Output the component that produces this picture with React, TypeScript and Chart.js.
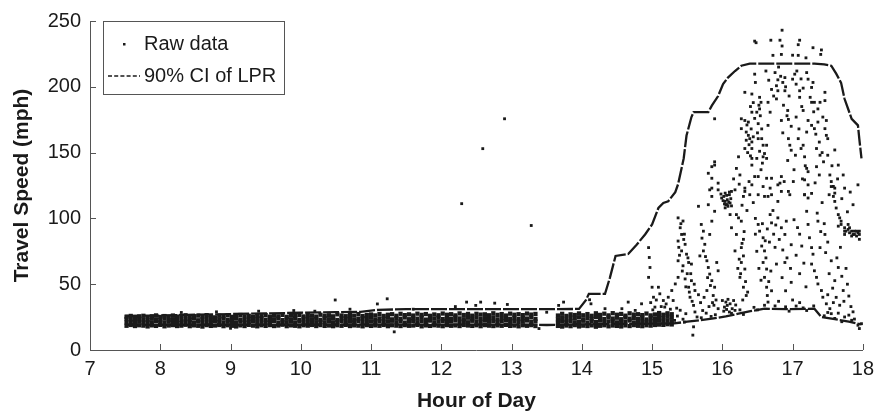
import React, { useEffect, useRef } from "react";
import { Chart, registerables } from "chart.js";

Chart.register(...registerables);

const xTicks = [7, 8, 9, 10, 11, 12, 13, 14, 15, 16, 17, 18];
const yTicks = [0, 50, 100, 150, 200, 250];
const legendLabels = ["Raw data", "90% CI of LPR"];
const xTitle = "Hour of Day";
const yTitle = "Travel Speed (mph)";

// Upper bound of the 90% CI of LPR
const upperHours = [7.5, 8.0, 8.5, 9.0, 9.5, 10.0, 10.5, 10.85, 11.1, 11.5, 12.0, 12.5, 13.0, 13.5, 13.96, 14.06, 14.1, 14.33, 14.4, 14.48, 14.66, 14.78, 14.9, 15.0, 15.09, 15.16, 15.23, 15.33, 15.37, 15.45, 15.49, 15.56, 15.59, 15.8, 15.85, 15.94, 16.01, 16.08, 16.18, 16.27, 16.39, 17.31, 17.45, 17.55, 17.62, 17.69, 17.74, 17.84, 17.93, 17.95, 17.98];
const upperSpeeds = [25.9, 26.2, 26.8, 27.3, 27.8, 28.3, 28.8, 29.0, 30.5, 31.0, 31.0, 31.0, 31.0, 31.0, 31.2, 38.0, 42.7, 42.7, 55.0, 71.5, 73.0, 80.0, 87.8, 95.4, 107.9, 111.7, 113.0, 120.0, 126.0, 145.6, 163.0, 177.0, 180.7, 180.7, 185.7, 193.0, 202.0, 207.0, 212.0, 216.0, 217.6, 217.6, 217.0, 216.0, 210.0, 203.0, 190.7, 175.7, 170.7, 160.0, 145.6];

// Lower bound of the 90% CI of LPR
const lowerHours = [7.5, 9.0, 10.5, 12.0, 13.0, 13.5, 14.0, 14.5, 15.0, 15.28, 15.5, 15.85, 16.05, 16.23, 16.4, 16.6, 16.9, 17.31, 17.41, 17.6, 17.8, 17.93, 17.98];
const lowerSpeeds = [19.0, 19.0, 19.2, 19.3, 19.3, 19.0, 19.5, 19.8, 20.0, 20.0, 21.5, 23.8, 25.5, 27.6, 29.5, 31.4, 31.0, 31.4, 25.1, 23.5, 21.5, 20.0, 19.5];

// Dense off-peak raw observations: [hour, speed, speed, speed, speed]
const bandRows: number[][] = [
  [7.52, 18.4, 20.9, 23.6, 25.3], [7.58, 19.0, 21.4, 23.1, 25.9], [7.64, 18.2, 20.6, 22.8, 24.7], [7.70, 18.8, 21.7, 23.9, 25.5],
  [7.76, 18.5, 20.8, 23.2, 26.0], [7.82, 17.9, 21.2, 22.6, 24.9], [7.88, 18.7, 20.5, 23.7, 25.6], [7.94, 18.3, 21.9, 23.3, 26.3],
  [8.00, 19.1, 21.0, 22.9, 25.1], [8.06, 18.0, 20.7, 23.8, 25.8], [8.12, 18.6, 21.5, 22.7, 24.6], [8.18, 18.9, 20.9, 23.4, 26.2],
  [8.24, 18.2, 21.3, 24.0, 25.4], [8.30, 18.5, 20.4, 22.8, 25.9], [8.36, 19.2, 21.8, 23.5, 26.4], [8.42, 18.1, 21.1, 23.0, 25.0],
  [8.48, 18.7, 20.6, 23.9, 25.7], [8.54, 18.4, 21.6, 22.6, 26.1], [8.60, 17.8, 20.8, 23.3, 25.3], [8.66, 18.9, 21.4, 24.1, 26.5],
  [8.72, 18.3, 20.7, 22.9, 25.6], [8.78, 18.6, 21.9, 23.6, 24.8], [8.84, 19.0, 21.2, 23.2, 26.0], [8.90, 18.1, 20.5, 23.8, 25.5],
  [8.96, 18.8, 21.6, 22.7, 26.3], [9.02, 18.4, 21.0, 23.4, 25.2], [9.08, 17.9, 20.9, 24.0, 25.9], [9.14, 18.7, 21.7, 23.1, 26.6],
  [9.20, 18.2, 20.6, 22.8, 25.4], [9.26, 19.1, 21.3, 23.7, 26.0], [9.32, 18.5, 21.8, 23.0, 25.1], [9.38, 18.0, 20.7, 23.5, 26.2],
  [9.44, 18.8, 21.5, 24.2, 25.7], [9.50, 18.3, 20.8, 22.9, 26.5], [9.56, 18.9, 21.1, 23.6, 25.3], [9.62, 18.2, 21.9, 23.2, 26.1],
  [9.68, 18.6, 20.6, 24.0, 25.6], [9.74, 19.2, 21.4, 22.7, 26.7], [9.80, 18.1, 21.0, 23.8, 25.2], [9.86, 18.7, 21.7, 23.3, 26.3],
  [9.92, 18.4, 20.9, 24.1, 25.8], [9.98, 18.0, 21.6, 22.8, 26.6], [10.04, 18.8, 20.7, 23.5, 25.5], [10.10, 18.5, 21.3, 24.2, 26.9],
  [10.16, 19.0, 21.8, 23.1, 26.0], [10.22, 18.2, 20.8, 23.7, 25.4], [10.28, 18.9, 21.5, 22.9, 26.8], [10.34, 18.3, 21.1, 24.3, 25.9],
  [10.40, 18.6, 22.0, 23.4, 26.4], [10.46, 18.1, 20.9, 23.9, 25.6], [10.52, 18.8, 21.4, 22.8, 27.1], [10.58, 18.4, 21.9, 24.1, 26.2],
  [10.64, 19.1, 20.7, 23.3, 25.7], [10.70, 18.2, 21.6, 24.4, 26.9], [10.76, 18.7, 21.0, 23.0, 26.1], [10.82, 18.5, 22.1, 23.8, 27.3],
  [10.88, 18.0, 21.2, 24.2, 25.8], [10.94, 18.9, 20.8, 23.5, 26.6], [11.00, 18.3, 21.7, 24.6, 27.0], [11.06, 18.7, 21.3, 23.2, 26.3],
  [11.12, 18.4, 22.0, 24.0, 27.4], [11.18, 19.0, 20.9, 23.6, 25.9], [11.24, 18.1, 21.5, 24.5, 26.8], [11.30, 18.8, 22.2, 23.3, 27.2],
  [11.36, 18.5, 21.1, 24.1, 26.0], [11.42, 18.2, 21.8, 23.7, 27.5], [11.48, 18.9, 20.8, 24.7, 26.5], [11.54, 18.4, 21.6, 23.4, 27.1],
  [11.60, 18.6, 22.1, 24.2, 26.2], [11.66, 19.1, 21.0, 23.8, 27.6], [11.72, 18.0, 21.9, 24.8, 26.7], [11.78, 18.7, 21.4, 23.1, 27.3],
  [11.84, 18.3, 22.3, 24.4, 26.0], [11.90, 18.8, 20.9, 23.9, 27.0], [11.96, 18.5, 21.7, 24.6, 26.4], [12.02, 18.1, 22.0, 23.5, 27.7],
  [12.08, 18.9, 21.2, 24.3, 26.8], [12.14, 18.4, 21.8, 23.7, 27.2], [12.20, 18.7, 22.4, 24.9, 26.3], [12.26, 18.2, 21.3, 24.0, 27.8],
  [12.32, 19.0, 21.9, 23.4, 26.6], [12.38, 18.6, 21.1, 24.5, 27.4], [12.44, 18.3, 22.2, 23.8, 26.1], [12.50, 18.8, 21.6, 24.7, 27.5],
  [12.56, 18.1, 21.0, 23.6, 26.9], [12.62, 18.9, 22.3, 24.2, 27.1], [12.68, 18.5, 21.5, 23.9, 26.4], [12.74, 18.2, 22.0, 24.8, 27.9],
  [12.80, 18.7, 21.2, 23.3, 26.7], [12.86, 18.4, 21.8, 24.4, 27.3], [12.92, 19.1, 22.5, 24.0, 26.2], [12.98, 18.3, 21.4, 23.7, 27.6],
  [13.04, 18.6, 22.1, 24.6, 26.8], [13.10, 18.0, 21.1, 23.5, 27.2], [13.16, 18.8, 21.9, 24.3, 26.5], [13.22, 18.4, 22.4, 23.9, 27.7],
  [13.28, 18.9, 21.3, 24.8, 26.9], [13.34, 18.2, 21.7, 23.6, 27.4],
  [13.66, 18.3, 20.8, 23.4, 26.2], [13.72, 17.8, 21.6, 24.3, 27.5], [13.78, 18.6, 21.1, 23.0, 25.9], [13.84, 18.1, 22.0, 24.6, 27.1],
  [13.90, 18.9, 20.7, 23.8, 26.6], [13.96, 17.9, 21.4, 24.9, 27.8], [14.02, 18.5, 22.2, 23.3, 26.4], [14.08, 18.2, 20.9, 24.4, 27.3],
  [14.14, 18.7, 21.8, 23.7, 26.0], [14.20, 17.7, 21.2, 25.0, 27.9], [14.26, 18.4, 22.3, 24.1, 26.7], [14.32, 18.8, 20.8, 23.5, 27.6],
  [14.38, 18.0, 21.6, 24.8, 26.3], [14.44, 18.6, 22.1, 23.9, 28.0], [14.50, 18.3, 21.0, 24.5, 26.8], [14.56, 17.9, 21.9, 23.4, 27.4],
  [14.62, 18.7, 21.3, 24.7, 26.1], [14.68, 18.2, 22.4, 23.8, 27.9], [14.74, 18.9, 20.9, 24.3, 26.9], [14.80, 18.4, 21.7, 23.6, 27.2],
  [14.86, 18.1, 22.0, 24.9, 26.5], [14.92, 18.8, 21.1, 23.2, 27.7], [14.98, 18.5, 21.9, 24.6, 26.3], [15.04, 19.0, 21.4, 23.9, 27.0],
  [15.10, 19.3, 22.3, 25.1, 28.1], [15.16, 19.1, 21.6, 24.2, 26.8], [15.22, 19.6, 22.5, 25.3, 27.9], [15.28, 19.4, 21.8, 24.6, 27.2],
];

// Sparse raw observations: [hour, speed]
const rawPoints: number[][] = [
  // off-peak stragglers
  [8.3, 28.5], [8.8, 29.0], [9.0, 16.5], [9.4, 29.5], [9.9, 30.0], [10.2, 29.5], [10.49, 38.0], [10.7, 31.0], [11.09, 35.0],
  [11.23, 38.9], [11.33, 13.8], [11.6, 31.0], [12.2, 33.0], [12.36, 36.4], [12.49, 33.9], [12.56, 36.4], [12.76, 35.6], [12.94, 34.6],
  [13.39, 16.3], [13.5, 28.7], [13.67, 33.9], [13.74, 36.4], [14.11, 38.2], [14.13, 35.1], [14.33, 31.4], [14.57, 31.4],
  [14.66, 36.4], [14.76, 30.1], [14.85, 35.1], [14.98, 36.0], [15.06, 38.0], [15.13, 33.0], [15.2, 35.0], [15.26, 31.0], [15.01, 30.5],
  // midday outliers
  [12.29, 111.2], [12.59, 153.0], [12.9, 175.7], [13.28, 94.6],
  // peak, above the upper line
  [16.85, 243.0], [16.46, 234.7], [16.48, 233.5], [16.69, 235.4], [16.82, 235.4], [17.1, 235.4], [16.85, 231.0], [17.08, 232.0],
  [17.29, 229.7], [17.41, 228.0], [17.4, 224.6], [16.72, 223.9], [16.84, 224.6], [17.0, 224.0], [17.08, 223.9], [17.19, 222.0],
  // peak, 190-215
  [16.46, 209.6], [16.47, 203.3], [16.75, 210.8], [16.79, 205.3], [16.86, 203.3], [16.89, 207.0], [17.0, 205.8], [17.05, 202.0],
  [17.03, 209.6], [17.22, 205.8], [17.29, 203.3], [17.2, 210.8], [16.77, 200.8], [16.79, 197.0], [16.89, 197.0], [17.1, 197.0],
  [17.27, 199.5], [16.32, 195.8], [16.42, 194.5], [16.53, 192.0], [16.55, 188.2], [16.53, 183.2], [16.44, 188.0], [16.77, 190.8],
  [16.65, 188.2], [17.1, 192.0], [17.31, 188.2], [17.39, 188.2], [17.46, 189.5], [17.46, 195.8], [17.27, 188.2],
  [16.8, 215.0], [16.83, 208.0], [16.9, 200.0], [16.95, 193.0], [17.06, 212.0], [17.12, 206.0], [17.15, 199.0], [17.25, 192.0],
  [16.62, 212.0], [16.66, 205.0], [16.7, 198.0], [16.73, 193.0],
  // peak, 140-185
  [16.42, 180.7], [16.49, 180.7], [16.68, 180.7], [16.93, 182.0], [17.15, 182.0], [17.36, 183.2], [15.89, 175.7], [16.27, 175.7],
  [16.32, 174.4], [16.37, 173.2], [16.51, 172.0], [16.65, 170.7], [16.84, 174.4], [16.94, 175.2], [17.05, 177.0], [17.22, 174.4],
  [17.43, 177.0], [17.48, 174.4], [17.27, 170.7], [17.31, 168.2], [17.36, 173.2], [16.27, 168.2], [16.34, 165.6], [16.37, 163.1],
  [16.39, 160.6], [16.42, 158.1], [16.34, 159.4], [16.32, 153.1], [16.42, 153.1], [16.51, 160.6], [16.56, 160.6], [16.58, 155.6],
  [16.6, 149.3], [16.58, 146.8], [16.63, 145.6], [16.63, 155.6], [16.94, 160.6], [16.96, 155.6], [16.98, 151.8], [17.08, 160.6],
  [17.12, 153.1], [17.15, 155.6], [17.2, 165.6], [17.34, 153.1], [17.48, 163.1], [17.5, 160.6], [17.46, 168.2], [16.23, 146.8],
  [16.42, 145.6], [16.49, 145.6], [17.17, 146.8], [17.39, 148.0], [17.5, 148.0], [15.89, 140.5], [15.85, 139.3], [15.89, 143.0],
  [16.42, 140.5], [17.34, 139.3], [17.65, 140.5], [17.2, 138.0], [17.22, 135.5],
  [16.36, 150.0], [16.4, 147.5], [16.38, 156.0], [16.44, 162.0], [16.41, 168.0], [16.35, 171.0], [16.46, 176.0], [16.4, 185.0],
  [16.52, 186.0], [16.54, 178.0], [16.5, 165.0], [16.56, 168.0], [16.53, 151.0], [16.57, 142.0], [16.55, 137.0],
  [16.87, 186.0], [16.92, 178.0], [16.98, 170.0], [16.86, 165.0], [16.93, 144.0], [17.02, 137.0], [16.88, 128.0],
  [17.3, 181.0], [17.33, 164.0], [17.38, 158.0], [17.42, 150.0], [17.44, 143.0], [17.38, 133.0], [17.32, 127.0],
  [17.01, 128.0], [17.04, 148.0], [17.09, 168.0], [17.13, 185.0], [17.18, 140.0], [17.14, 130.0],
  [17.56, 140.0], [17.6, 152.0], [17.64, 130.0],
  // peak, 115-135
  [15.8, 134.3], [15.85, 130.5], [15.94, 126.8], [16.25, 133.0], [16.46, 131.8], [16.51, 131.8], [16.63, 130.5], [16.7, 130.5],
  [16.84, 131.8], [16.82, 126.8], [16.79, 125.5], [17.17, 129.3], [17.22, 125.5], [17.53, 133.0], [17.55, 128.0], [17.58, 124.3],
  [17.6, 123.0], [17.72, 133.0], [17.93, 125.5], [17.74, 123.0], [15.82, 121.7], [15.94, 121.7], [16.04, 119.2], [16.13, 120.5],
  [16.32, 120.5], [16.39, 118.0], [16.6, 116.7], [16.7, 118.0], [16.94, 120.5], [17.17, 118.0], [17.6, 119.2], [17.27, 119.0],
  [16.16, 130.0], [16.2, 138.0], [16.24, 126.0], [16.38, 128.0], [17.52, 118.0], [17.82, 120.0],
  // peak, 100-125
  [15.85, 123.0], [15.85, 116.7], [15.99, 115.5], [16.04, 112.9], [16.02, 116.7], [16.07, 114.2], [16.11, 111.7], [16.1, 118.0],
  [16.08, 109.2], [16.05, 110.4], [16.18, 121.7], [16.32, 123.0], [16.3, 116.7], [16.42, 125.5], [16.51, 118.0], [16.58, 124.2],
  [16.65, 116.7], [16.68, 123.0], [16.79, 112.9], [16.84, 120.5], [16.96, 118.0], [17.17, 118.0], [17.22, 115.5], [17.55, 124.2],
  [17.58, 116.7], [17.6, 112.9], [17.62, 107.9], [17.65, 102.9], [17.86, 110.4], [15.66, 109.2], [15.8, 110.4], [16.11, 102.9],
  [16.2, 102.9], [16.23, 100.4], [17.42, 112.0], [17.35, 104.0],
  [16.01, 113.5], [16.03, 111.0], [16.06, 117.5], [16.09, 112.5], [16.12, 115.0], [16.04, 108.0], [16.1, 120.0], [16.07, 110.5],
  [15.98, 118.5], [16.13, 109.5], [16.28, 110.0], [16.35, 106.0], [16.44, 112.0], [16.47, 100.0], [16.72, 106.0],
  [17.7, 115.0], [17.78, 105.0],
  // late cluster near 85-100
  [17.69, 95.4], [17.74, 92.9], [17.76, 90.3], [17.79, 91.6], [17.81, 89.1], [17.84, 90.3], [17.86, 87.8], [17.88, 90.3],
  [17.91, 86.6], [17.93, 89.1], [17.95, 87.8], [17.95, 84.1], [17.74, 87.8], [17.69, 97.9], [17.67, 100.4], [17.65, 94.1],
  [17.79, 95.4], [17.84, 86.6], [17.91, 90.3], [17.95, 90.3], [17.74, 90.3], [17.81, 92.9], [17.88, 87.8],
  // onset column around 15.4-15.6
  [15.37, 100.4], [15.4, 92.9], [15.42, 87.8], [15.37, 82.8], [15.47, 80.3], [15.42, 75.3], [15.49, 72.8], [15.37, 67.8],
  [15.52, 66.5], [15.56, 65.3], [15.37, 55.2], [15.47, 54.0], [15.56, 52.7], [15.52, 47.7], [15.61, 45.2], [15.54, 40.1],
  [15.59, 33.9], [15.61, 28.9], [15.64, 25.1], [15.59, 17.6], [15.58, 11.3],
  [15.44, 98.0], [15.46, 88.0], [15.39, 72.0], [15.43, 60.0], [15.5, 58.0], [15.53, 44.0], [15.57, 37.0], [15.48, 48.0],
  [15.41, 96.0], [15.45, 84.0], [15.38, 78.0], [15.51, 70.0], [15.44, 64.0], [15.55, 58.0], [15.6, 50.0],
  // column around 15.7-15.9
  [15.7, 95.4], [15.73, 90.3], [15.75, 80.3], [15.73, 75.3], [15.68, 71.5], [15.78, 67.8], [15.8, 62.7], [15.82, 57.7],
  [15.85, 52.7], [15.89, 47.7], [15.78, 45.2], [15.87, 41.4], [15.82, 87.8], [15.85, 97.9], [15.89, 105.4], [15.94, 60.2],
  [15.92, 66.5], [15.71, 85.0], [15.76, 71.0], [15.79, 55.0], [15.83, 49.0], [15.86, 36.0], [15.88, 34.0], [15.74, 40.0],
  [15.66, 42.0], [15.69, 36.0], [15.72, 30.0], [15.77, 28.0], [15.81, 33.0], [15.84, 25.5], [15.91, 38.0],
  // low cluster around 16.0-16.2
  [16.0, 37.6], [16.05, 36.4], [16.07, 33.9], [16.11, 35.1], [16.14, 31.4], [16.1, 28.9], [16.03, 32.6], [16.16, 37.6],
  [16.18, 30.1], [15.94, 31.4], [16.02, 29.5], [16.08, 38.5], [16.13, 27.9], [16.06, 30.8], [16.19, 34.2],
  // column around 16.3
  [16.27, 97.9], [16.3, 84.1], [16.27, 77.8], [16.3, 71.5], [16.27, 66.5], [16.32, 61.5], [16.25, 55.2], [16.3, 47.7],
  [16.34, 41.4], [16.18, 75.3], [16.13, 92.9], [16.2, 87.8],
  [16.22, 62.0], [16.24, 69.0], [16.28, 81.0], [16.31, 90.0], [16.26, 58.0], [16.33, 52.0], [16.36, 44.0], [16.29, 38.0],
  // column around 16.6
  [16.51, 95.4], [16.53, 90.3], [16.58, 85.3], [16.56, 79.0], [16.6, 75.3], [16.58, 66.5], [16.63, 61.5], [16.6, 55.2],
  [16.63, 47.7], [16.64, 41.4], [16.65, 36.4], [16.68, 102.9], [16.7, 96.6], [16.79, 100.4], [16.84, 92.9], [16.89, 87.8],
  [16.91, 97.9], [16.77, 65.3], [16.89, 66.5], [16.98, 51.4], [16.98, 80.0], [17.05, 72.0], [17.1, 58.0], [16.9, 45.0],
  [17.0, 38.0], [16.85, 55.0], [17.1, 88.0], [16.62, 70.0], [16.66, 52.0], [16.7, 45.0], [16.73, 88.0], [16.75, 78.0], [16.67, 82.0],
  [16.47, 88.0], [16.49, 75.0], [16.52, 62.0], [16.55, 53.0], [16.57, 96.0], [16.61, 83.0], [16.64, 92.0], [16.69, 60.0],
  [16.76, 95.0], [16.81, 84.0], [16.86, 76.0], [16.92, 70.0], [16.97, 62.0], [17.02, 99.0], [17.07, 93.0], [17.13, 79.0],
  [17.16, 66.0], [17.19, 48.0],
  // column around 17.3-17.5
  [17.2, 105.4], [17.22, 95.4], [17.24, 85.3], [17.27, 77.8], [17.29, 72.8], [17.27, 65.3], [17.31, 60.2], [17.34, 55.2],
  [17.36, 50.2], [17.41, 45.2], [17.43, 40.1], [17.48, 35.1], [17.53, 31.4], [17.55, 27.6], [17.46, 87.8], [17.39, 77.8],
  [17.55, 67.8], [17.6, 52.7], [17.72, 45.2], [17.65, 62.7], [17.36, 97.9],
  [17.45, 96.0], [17.4, 90.0], [17.5, 82.0], [17.47, 74.0], [17.52, 58.0], [17.57, 47.0], [17.5, 42.0], [17.58, 36.0],
  [17.62, 40.0], [17.67, 34.0], [17.7, 56.0], [17.63, 70.0], [17.68, 78.0], [17.73, 37.0],
  [17.76, 62.0], [17.78, 50.0], [17.8, 41.0], [17.83, 33.0], [17.86, 29.0],
  // rise around 15.0-15.3
  [14.95, 77.8], [14.96, 70.3], [14.97, 62.7], [14.95, 55.2], [15.0, 47.7], [15.02, 40.1], [15.09, 47.7], [15.11, 42.7],
  [15.16, 37.6], [15.18, 32.6], [15.23, 40.1], [15.28, 45.2], [15.3, 37.6], [15.04, 32.6], [15.21, 27.6], [15.33, 50.2],
  // near the lower line, late afternoon
  [15.32, 22.5], [15.36, 25.8], [15.4, 30.2], [15.44, 23.4], [15.48, 27.6], [15.35, 31.8], [15.46, 21.2],
  [15.7, 24.5], [15.9, 26.8], [16.25, 30.5], [16.45, 32.4], [16.6, 34.0], [16.75, 33.5], [16.9, 32.8], [17.05, 33.4],
  [17.15, 32.0], [17.3, 33.5], [17.74, 25.1], [17.84, 22.6], [17.93, 18.8], [17.95, 16.3], [17.6, 24.0], [17.65, 28.0],
  [17.7, 21.5], [17.8, 26.5], [17.88, 23.5], [17.5, 28.5], [17.45, 26.0], [17.98, 20.0],
  [16.3, 27.0], [16.5, 30.5], [16.95, 29.5], [17.2, 30.0], [17.1, 36.0], [16.8, 37.0],
];

const FONT = "'Liberation Sans', Arial, Helvetica, sans-serif";
const INK = "#1a1a1a";
const AXIS = "#555555";

const inwardTicks = {
  id: "inwardTicks",
  afterDatasetsDraw(chart: any) {
    const { ctx, chartArea, scales } = chart;
    const x = scales.x;
    const y = scales.y;
    ctx.save();
    ctx.strokeStyle = AXIS;
    ctx.lineWidth = 1;
    ctx.beginPath();
    xTicks.forEach((v) => {
      const px = Math.round(x.getPixelForValue(v)) + 0.5;
      ctx.moveTo(px, chartArea.bottom);
      ctx.lineTo(px, chartArea.bottom - 6);
    });
    yTicks.forEach((v) => {
      const py = Math.round(y.getPixelForValue(v)) + 0.5;
      ctx.moveTo(chartArea.left, py);
      ctx.lineTo(chartArea.left + 6, py);
    });
    ctx.stroke();
    ctx.restore();
  },
};

const boxLegend = {
  id: "boxLegend",
  afterDraw(chart: any) {
    const { ctx, chartArea } = chart;
    const left = chartArea.left + 13;
    const top = chartArea.top;
    const w = 181;
    const h = 73;
    ctx.save();
    ctx.fillStyle = "#ffffff";
    ctx.fillRect(left, top, w, h);
    ctx.strokeStyle = AXIS;
    ctx.lineWidth = 1;
    ctx.strokeRect(left + 0.5, top + 0.5, w, h);
    // Raw data marker
    ctx.fillStyle = INK;
    ctx.fillRect(left + 20, top + 22, 2.5, 2.5);
    // CI line sample
    ctx.strokeStyle = INK;
    ctx.lineWidth = 1.5;
    ctx.setLineDash([4, 2.2]);
    ctx.beginPath();
    ctx.moveTo(left + 5, top + 55);
    ctx.lineTo(left + 37, top + 55);
    ctx.stroke();
    ctx.setLineDash([]);
    ctx.font = `20px ${FONT}`;
    ctx.textBaseline = "middle";
    ctx.textAlign = "left";
    ctx.fillText(legendLabels[0], left + 41, top + 23);
    ctx.fillText(legendLabels[1], left + 41, top + 55);
    ctx.restore();
  },
};

export default function App() {
  const ref = useRef<HTMLCanvasElement>(null);

  useEffect(() => {
    const canvas = ref.current;
    if (!canvas) return;
    const bandData = bandRows.flatMap((r) => r.slice(1).map((v) => ({ x: r[0], y: v })));
    const rawData = rawPoints.map((p) => ({ x: p[0], y: p[1] }));
    const upperData = upperHours.map((h, i) => ({ x: h, y: upperSpeeds[i] }));
    const lowerData = lowerHours.map((h, i) => ({ x: h, y: lowerSpeeds[i] }));

    const chart = new Chart(canvas, {
      type: "scatter",
      data: {
        datasets: [
          {
            label: "Raw data (dense)",
            data: bandData,
            pointStyle: "rect",
            pointRadius: 3.0,
            pointBackgroundColor: INK,
            pointBorderWidth: 0,
          },
          {
            label: legendLabels[0],
            data: rawData,
            pointStyle: "rect",
            pointRadius: 2.0,
            pointBackgroundColor: INK,
            pointBorderWidth: 0,
          },
          {
            label: legendLabels[1],
            type: "line",
            data: upperData,
            showLine: true,
            borderColor: INK,
            borderWidth: 2.3,
            borderDash: [16, 2],
            pointRadius: 0,
            fill: false,
            tension: 0,
          } as any,
          {
            label: "lower",
            type: "line",
            data: lowerData,
            showLine: true,
            borderColor: INK,
            borderWidth: 2.3,
            borderDash: [16, 2],
            pointRadius: 0,
            fill: false,
            tension: 0,
          } as any,
        ],
      },
      options: {
        responsive: false,
        animation: false,
        devicePixelRatio: 1,
        layout: { padding: { top: 18, right: 16, left: 0, bottom: 0 } },
        plugins: {
          legend: { display: false },
          tooltip: { enabled: false },
        },
        scales: {
          x: {
            type: "linear",
            min: 7,
            max: 18,
            afterBuildTicks: (s: any) => {
              s.ticks = xTicks.map((v) => ({ value: v }));
            },
            afterFit: (s: any) => {
              s.height = 67;
            },
            ticks: {
              font: { family: FONT, size: 20 },
              color: INK,
              padding: 7,
              maxRotation: 0,
              autoSkip: false,
            },
            grid: { display: true, drawOnChartArea: false, drawTicks: false },
            border: { display: true, color: AXIS, width: 1 },
            title: {
              display: true,
              text: xTitle,
              font: { family: FONT, size: 21, weight: "bold" },
              color: INK,
              padding: { top: 0, bottom: 3 },
            },
          },
          y: {
            type: "linear",
            min: 0,
            max: 250,
            afterBuildTicks: (s: any) => {
              s.ticks = yTicks.map((v) => ({ value: v }));
            },
            afterFit: (s: any) => {
              s.width = 90;
            },
            ticks: {
              font: { family: FONT, size: 20 },
              color: INK,
              padding: 9,
              autoSkip: false,
            },
            grid: { display: true, drawOnChartArea: false, drawTicks: false },
            border: { display: true, color: AXIS, width: 1 },
            title: {
              display: true,
              text: yTitle,
              font: { family: FONT, size: 21, weight: "bold" },
              color: INK,
              padding: { top: 10, bottom: 0 },
            },
          },
        },
      } as any,
      plugins: [inwardTicks, boxLegend],
    });
    return () => chart.destroy();
  }, []);

  return (
    <div style={{ position: "absolute", left: 0, top: 0, width: 881, height: 417, background: "#ffffff" }}>
      <canvas ref={ref} width={881} height={417} style={{ display: "block", width: 881, height: 417 }} />
    </div>
  );
}
